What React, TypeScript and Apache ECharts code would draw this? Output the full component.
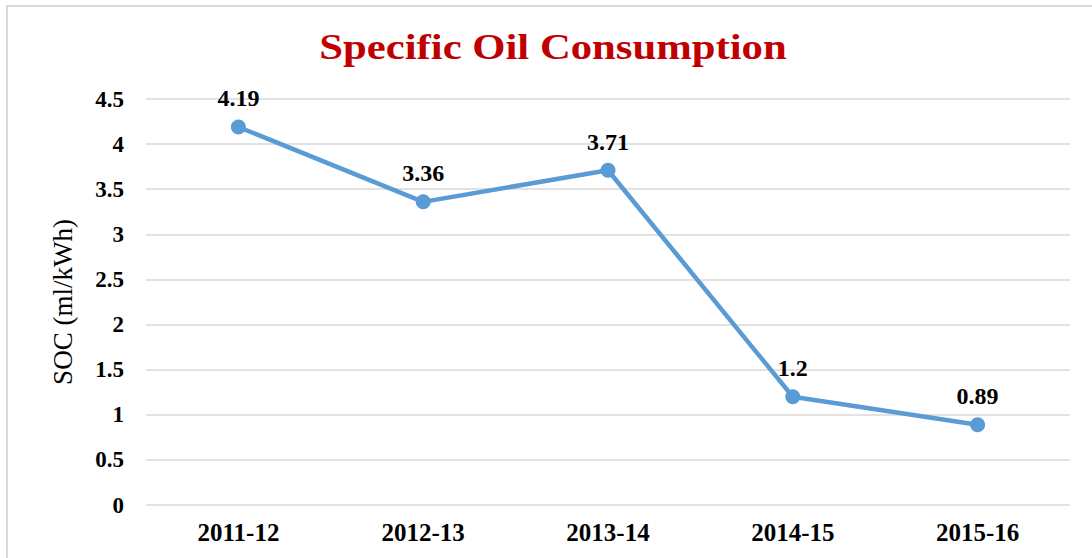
import React, { useEffect, useRef } from "react";
import * as echarts from "echarts";

const titleText = "Specific Oil Consumption";
const yAxisName = "SOC (ml/kWh)";
const categories = ["2011-12", "2012-13", "2013-14", "2014-15", "2015-16"];
const socValues = [4.19, 3.36, 3.71, 1.2, 0.89];
const yTicks = { min: 0, max: 4.5, interval: 0.5 };

export default function App() {
  const ref = useRef<HTMLDivElement>(null);
  useEffect(() => {
    if (!ref.current) return;
    const chart = echarts.init(ref.current, null, { renderer: "svg" });
    const serif = "Liberation Serif";
    chart.setOption({
      animation: false,
      backgroundColor: "#ffffff",
      textStyle: { fontFamily: serif },
      graphic: [
        {
          type: "rect",
          shape: { x: 7, y: 6, width: 1100, height: 570 },
          style: { fill: "none", stroke: "#d9d9d9", lineWidth: 2 },
          silent: true,
        },
        {
          type: "text",
          x: 553,
          y: 47,
          scaleX: 1.22,
          style: {
            text: titleText,
            fontFamily: serif,
            fontWeight: "bold",
            fontSize: 35,
            fill: "#C00000",
            align: "center",
            verticalAlign: "middle",
          },
          silent: true,
        },
      ],
      grid: { left: 146, right: 22, top: 99, bottom: 53, containLabel: false },
      xAxis: {
        type: "category",
        data: categories,
        boundaryGap: true,
        axisLine: { show: false },
        axisTick: { show: false },
        axisLabel: { fontFamily: serif, fontWeight: "bold", fontSize: 25, color: "#000", margin: 15 },
      },
      yAxis: {
        type: "value",
        min: yTicks.min,
        max: yTicks.max,
        interval: yTicks.interval,
        name: yAxisName,
        nameLocation: "middle",
        nameGap: 70,
        nameTextStyle: { fontFamily: serif, fontWeight: "normal", fontSize: 27, color: "#000" },
        axisLine: { show: false },
        axisTick: { show: false },
        axisLabel: { fontFamily: serif, fontWeight: "bold", fontSize: 23, color: "#000", margin: 22 },
        splitLine: { lineStyle: { color: "#d9d9d9", width: 1.5 } },
      },
      series: [
        {
          type: "line",
          data: socValues,
          symbol: "circle",
          symbolSize: 15,
          lineStyle: { color: "#5B9BD5", width: 4.5 },
          itemStyle: { color: "#5B9BD5" },
          label: {
            show: true,
            position: "top",
            distance: 9,
            fontFamily: serif,
            fontWeight: "bold",
            fontSize: 24,
            color: "#000",
          },
        },
      ],
    });
    return () => chart.dispose();
  }, []);
  return (
    <div
      ref={ref}
      style={{ position: "fixed", left: 0, top: 0, width: 1092, height: 558 }}
    />
  );
}
